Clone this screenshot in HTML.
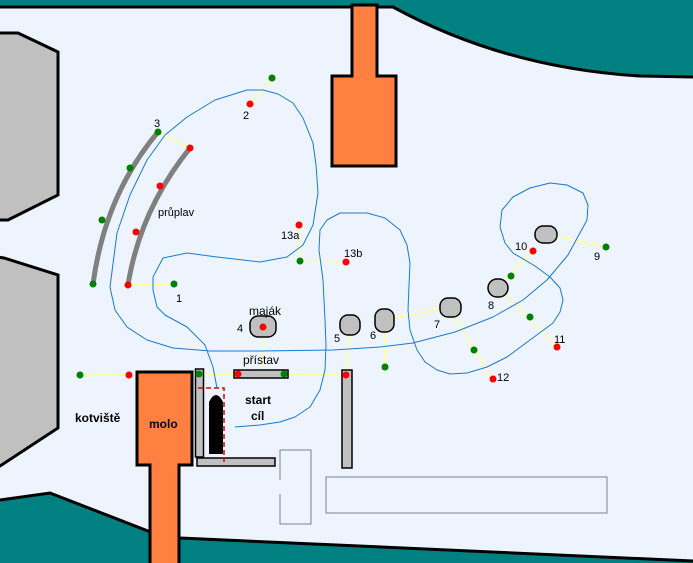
<!DOCTYPE html>
<html><head><meta charset="utf-8"><style>
html,body{margin:0;padding:0;background:#eef4fe;}
svg{display:block;}
text{font-family:"Liberation Sans",sans-serif;font-size:11px;fill:#000;}
.b{font-weight:bold;font-size:12px;}
</style></head><body>
<svg width="693" height="563" viewBox="0 0 693 563" xmlns="http://www.w3.org/2000/svg">
<rect width="693" height="563" fill="#eef4fe"/>
<!-- top teal -->
<path d="M0,0 L693,0 L693,77 L640,76 Q505,68 393,7 L0,7 Z" fill="#008080"/>
<path d="M0,7 L393,7 Q505,68 640,76 L693,77" fill="none" stroke="#000" stroke-width="3"/>
<!-- bottom teal -->
<path d="M0,500 L50,493 L148,531 L180,538 L693,561 L693,563 L0,563 Z" fill="#008080"/>
<path d="M0,500 L50,493 L148,531 L180,538 L693,561" fill="none" stroke="#000" stroke-width="3"/>
<!-- gray blocks -->
<path d="M-2,33 L18,33 L58,52 L58,195 L8,220 L-2,220 Z" fill="#c0c0c0" stroke="#000" stroke-width="3"/>
<path d="M-2,257 L4,258 L58,275 L58,428 L0,466 L-2,466 Z" fill="#c0c0c0" stroke="#000" stroke-width="3"/>
<!-- upper pier -->
<path d="M352,5 L377,5 L377,76 L396,76 L396,166 L332,166 L332,76 L352,76 Z" fill="#ff8040" stroke="#000" stroke-width="3"/>
<!-- lower molo -->
<path d="M137,372 L192,372 L192,465 L179,465 L179,565 L150,565 L150,465 L137,465 Z" fill="#ff8040" stroke="#000" stroke-width="3"/>
<!-- outlines -->
<path d="M280,480 L280,450 L311,450 L311,524 L280,524 L280,494" fill="none" stroke="#7a8090" stroke-width="1"/>
<rect x="326" y="477" width="281" height="36" fill="none" stroke="#7a8090" stroke-width="1"/>
<!-- yellow lines -->
<g stroke="#ffff99" stroke-width="1.5" fill="none">
<line x1="80" y1="375" x2="129" y2="375"/>
<line x1="199" y1="374" x2="346" y2="375"/>
<line x1="128" y1="285" x2="174" y2="284"/>
<line x1="158" y1="132" x2="190" y2="148"/>
<line x1="250" y1="104" x2="272" y2="78"/>
<line x1="299" y1="225" x2="300" y2="261"/>
<line x1="300" y1="261" x2="346" y2="262"/>
<line x1="263" y1="327" x2="263" y2="372"/>
<line x1="350" y1="325" x2="346" y2="375"/>
<line x1="385" y1="322" x2="385" y2="367"/>
<line x1="385" y1="320" x2="450" y2="307"/>
<line x1="450" y1="310" x2="493" y2="379"/>
<line x1="498" y1="288" x2="557" y2="347"/>
<line x1="498" y1="288" x2="533" y2="251"/>
<line x1="546" y1="234" x2="606" y2="247"/>
</g>
<!-- gray arcs -->
<path d="M158,132 Q105,195 93,284" fill="none" stroke="#808080" stroke-width="5"/>
<path d="M190,148 Q140,210 128,285" fill="none" stroke="#808080" stroke-width="5"/>
<!-- bars -->
<g fill="#c0c0c0" stroke="#000" stroke-width="1.5">
<rect x="195.5" y="369" width="8" height="88"/>
<rect x="197" y="458" width="78" height="8"/>
<rect x="234" y="370" width="54" height="8"/>
<rect x="342" y="370" width="10" height="98"/>
<rect x="250" y="316" width="26" height="21" rx="8"/>
<rect x="340" y="315" width="20" height="20" rx="8"/>
<rect x="375" y="309" width="19" height="23" rx="8"/>
<rect x="440" y="298" width="21" height="19" rx="8"/>
<rect x="488" y="279" width="20" height="18" rx="9"/>
<rect x="535" y="226" width="22" height="17" rx="8"/>
</g>
<!-- boat -->
<path d="M209,454 L209,402 Q216,388 223,402 L223,454 Z" fill="#000"/>
<path d="M198,388 L224,388 L224,462" fill="none" stroke="#e00000" stroke-width="1.5" stroke-dasharray="5,3"/>
<!-- blue course -->
<polyline fill="none" stroke="#1a7ad0" stroke-width="1" stroke-linejoin="round" points="217,388 213,367 205,345 187,327 165,315 157,307 153,290 153,277 163,258 187,253 217,257 260,262 287,257 303,245 313,225 318,193 316,165 313,143 303,118 293,103 278,94 263,90 247,90 215,100 187,117 165,135 147,160 130,195 117,233 110,287 115,310 127,327 147,340 173,348 210,351 260,351 333,350 380,347 413,343 455,332 493,317 523,300 547,280 568,255 587,220 588,205 583,193 567,185 550,183 530,188 513,197 502,210 500,227 505,243 513,253 535,266 550,277 560,288 563,300 560,312 553,323 530,340 507,357 487,367 467,373 450,374 437,370 425,362 417,350 410,330 408,310 409,285 410,263 407,245 400,230 385,218 367,213 340,213 327,220 320,230 319,250 323,280 325,320 326,345 325,370 320,390 310,407 295,417 280,422 260,425 235,427"/>
<!-- dots -->
<g fill="#008000">
<circle cx="80" cy="375" r="3.5"/><circle cx="199" cy="374" r="3.5"/><circle cx="284" cy="374" r="3.5"/>
<circle cx="174" cy="284" r="3.5"/><circle cx="158" cy="132" r="3.5"/><circle cx="130" cy="168" r="3.5"/>
<circle cx="102" cy="220" r="3.5"/><circle cx="93" cy="284" r="3.5"/><circle cx="272" cy="78" r="3.5"/>
<circle cx="300" cy="261" r="3.5"/><circle cx="385" cy="367" r="3.5"/><circle cx="474" cy="350" r="3.5"/>
<circle cx="511" cy="276" r="3.5"/><circle cx="530" cy="317" r="3.5"/><circle cx="606" cy="247" r="3.5"/>
</g>
<g fill="#ff0000">
<circle cx="129" cy="375" r="3.5"/><circle cx="238" cy="374" r="3.5"/><circle cx="346" cy="375" r="3.5"/>
<circle cx="128" cy="285" r="3.5"/><circle cx="190" cy="148" r="3.5"/><circle cx="160" cy="186" r="3.5"/>
<circle cx="136" cy="232" r="3.5"/><circle cx="250" cy="104" r="3.5"/><circle cx="299" cy="225" r="3.5"/>
<circle cx="346" cy="262" r="3.5"/><circle cx="263" cy="327" r="3.5"/><circle cx="493" cy="379" r="3.5"/>
<circle cx="533" cy="251" r="3.5"/><circle cx="557" cy="347" r="3.5"/>
</g>
<!-- labels -->
<text x="176" y="302">1</text>
<text x="243" y="119">2</text>
<text x="154" y="127">3</text>
<text x="237" y="332">4</text>
<text x="334" y="342">5</text>
<text x="370" y="339">6</text>
<text x="434" y="328">7</text>
<text x="488" y="309">8</text>
<text x="594" y="260">9</text>
<text x="515" y="250">10</text>
<text x="554" y="343">11</text>
<text x="497" y="381">12</text>
<text x="281" y="239">13a</text>
<text x="344" y="257">13b</text>
<text x="158" y="216">průplav</text>
<text x="249" y="315" style="font-size:12px">maják</text>
<text x="243" y="364" style="font-size:12px">přístav</text>
<text x="75" y="422" class="b">kotviště</text>
<text x="149" y="428" class="b">molo</text>
<text x="245" y="404" class="b">start</text>
<text x="251" y="420" class="b">cíl</text>
</svg>
</body></html>
